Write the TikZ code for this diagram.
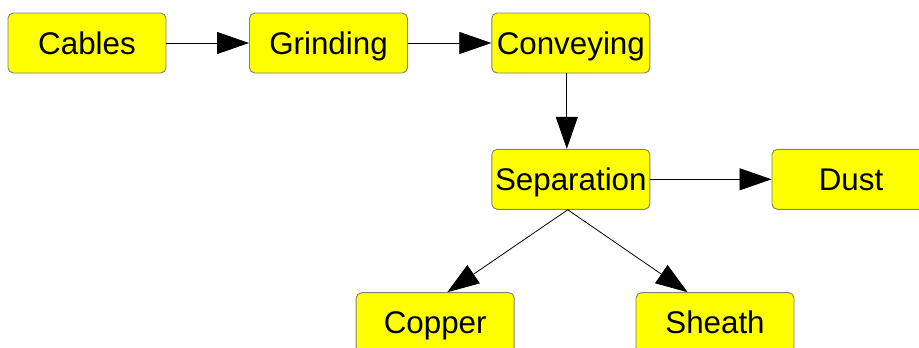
\documentclass[tikz,border=0pt]{standalone}
\usepackage{fontspec}
\setmainfont{Liberation Sans}
\usetikzlibrary{arrows.meta}
\definecolor{boxborder}{RGB}{128,128,128}
\definecolor{boxfill}{RGB}{255,255,0}
\begin{document}
\begin{tikzpicture}[x=0.75pt,y=-0.75pt,
  box/.style={draw=boxborder,line width=0.7pt,fill=boxfill,rounded corners=4pt,
    minimum width=118.5pt,minimum height=45pt,inner sep=0pt,
    text height=16.8pt,text depth=0pt,
    font=\fontsize{23.5pt}{26pt}\selectfont},
  conn/.style={draw=black,line width=0.6pt,-{Triangle[length=24pt,width=16.5pt]}}]
\useasboundingbox (0,0) rectangle (919,347);
\clip (0,0) rectangle (919,347);
\node[box] (cables) at (87,43) {Cables};
\node[box] (grind) at (328.5,43) {Grinding};
\node[box] (conv) at (570.8,43) {Conveying};
\node[box] (sep) at (570.8,179.3) {Separation};
\node[box] (dust) at (851,179.3) {Dust};
\node[box] (copper) at (435.2,322.7) {Copper};
\node[box] (sheath) at (715,322.7) {Sheath};
\draw[conn] (cables.east) -- (grind.west);
\draw[conn] (grind.east) -- (conv.west);
\draw[conn] ([xshift=-3pt]conv.south) -- ([xshift=-3pt]sep.north);
\draw[conn] (sep.east) -- (dust.west);
\draw[conn] ([xshift=-2.3pt]sep.south) -- ([xshift=9pt]copper.north);
\draw[conn] ([xshift=-2.3pt]sep.south) -- ([xshift=-20.5pt]sheath.north);
\end{tikzpicture}
\end{document}
